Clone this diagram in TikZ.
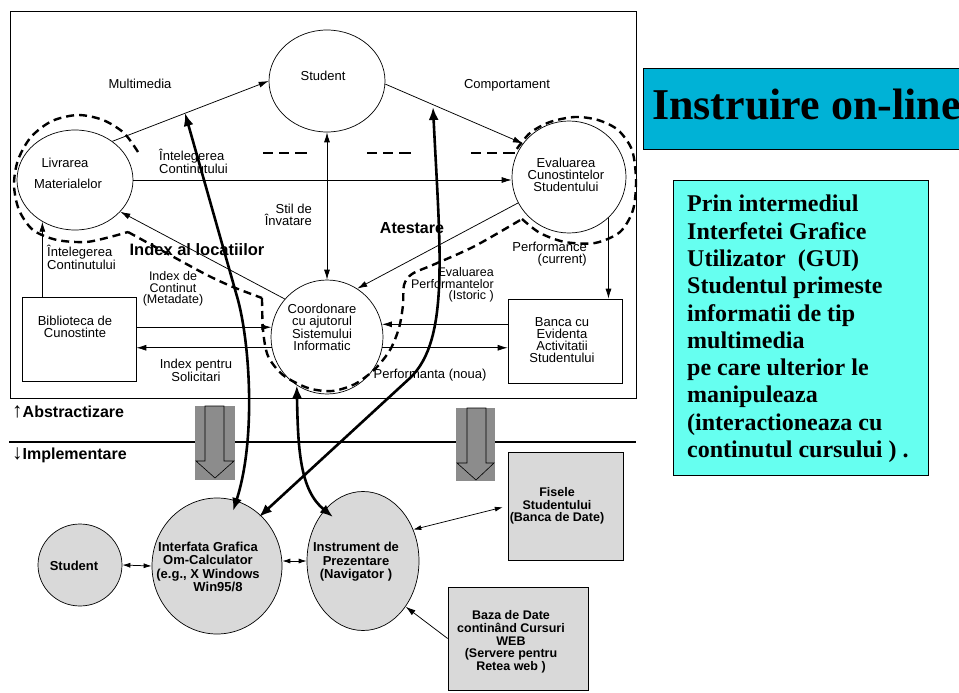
\documentclass[tikz,border=0pt]{standalone}
\usepackage{fontspec}
\setmainfont{Liberation Serif}
\newfontfamily\arial{Liberation Sans}
\usetikzlibrary{shapes.geometric,arrows.meta,calc}
\definecolor{titlecol}{RGB}{0,178,214}
\definecolor{notecol}{RGB}{102,255,240}
\definecolor{lgray}{RGB}{217,217,217}
\definecolor{dgray}{RGB}{140,140,140}
\begin{document}
\begin{tikzpicture}[x=1pt,y=-1pt,
  oval/.style={draw, ellipse, inner sep=0pt, line width=0.7pt},
  box/.style={draw, rectangle, inner sep=0pt, line width=0.7pt},
  lbl/.style={font=\arial\fontsize{13}{12}\selectfont, align=center, inner sep=0pt},
  slbl/.style={font=\arial\fontsize{12.5}{11.5}\selectfont, align=center, inner sep=0pt},
  blbl/.style={font=\arial\bfseries\fontsize{13}{13.5}\selectfont, align=center, inner sep=0pt},
  arr/.style={line width=0.75pt, -{Latex[length=10pt,width=6pt]}},
  darr/.style={line width=0.75pt, {Latex[length=10pt,width=6pt]}-{Latex[length=10pt,width=6pt]}},
  sarr/.style={line width=0.75pt, {Latex[length=8pt,width=5pt]}-{Latex[length=8pt,width=5pt]}},
  fatarr/.style={line width=2.6pt, {Latex[length=13pt,width=10pt]}-{Latex[length=13pt,width=10pt]}},
  dsh/.style={line width=2.4pt, dash pattern=on 8pt off 5pt},
  blockarrow/.style={fill=dgray, draw=black, line width=0.6pt},
]
\path[use as bounding box] (0,0) rectangle (959,693);
\fill[white] (0,0) rectangle (959,693);

% frame
\draw[line width=1pt] (10,12) rectangle (636,398);

% top nodes
\node[oval, minimum width=116pt, minimum height=102pt] (stud) at (327,81) {};
\node[oval, minimum width=116pt, minimum height=100pt] (livr) at (75,180) {};
\node[oval, minimum width=114pt, minimum height=112pt] (eval) at (569,177) {};
\node[oval, minimum width=112pt, minimum height=114pt] (coord) at (327,337) {};
\node[box, minimum width=114pt, minimum height=84pt] (bib) at (79,339) {};
\node[box, minimum width=114pt, minimum height=84pt] (banca) at (565,341) {};

% labels (top)
\node[lbl] (tStud) at (323,76) {Student};
\node[lbl] (tLivr1) at (65,163) {Livrarea};
\node[lbl] (tLivr2) at (68,184) {Materialelor};
\node[lbl] (tEval) at (566,175) {Evaluarea\\Cunostintelor\\Studentului};
\node[lbl] (tCoord) at (322,327) {Coordonare\\cu ajutorul\\Sistemului\\Informatic};
\node[lbl] (tBib) at (75,327) {Biblioteca de\\Cunostinte};
\node[lbl] (tBanca) at (562,340) {Banca cu\\Evidenta\\Activitatii\\Studentului};
\node[lbl] (tMulti) at (140,84) {Multimedia};
\node[lbl] (tComp) at (507,85) {Comportament};
\node[lbl, align=left, anchor=west] (tInt1) at (159,161) {Întelegerea\\Continutului};
\node[lbl, align=left, anchor=west] (tInt2) at (47,257) {Întelegerea\\Continutului};
\node[lbl, align=right, anchor=east] (tStil) at (312,215) {Stil de\\Învatare};
\node[lbl, font=\arial\bfseries\fontsize{16}{16}\selectfont] (tAtest) at (412,228) {Atestare};
\node[lbl, font=\arial\bfseries\fontsize{16.5}{16.5}\selectfont] (tIndex) at (197,250) {Index al locatiilor};
\node[slbl] (tMeta) at (173,289) {Index de\\Continut\\(Metadate)};
\node[lbl] (tSolic) at (196,370) {Index pentru\\Solicitari};
\node[lbl, align=right, anchor=east] (tPerfc) at (587,254) {Performance\\(current)};
\node[slbl, align=right, anchor=east] (tPerfi) at (494,285) {Evaluarea\\Performantelor\\(Istoric )};
\node[lbl] (tPerfn) at (430,375) {Performanta (noua)};

% dashed boundaries
\draw[dsh] plot[smooth] coordinates {(138,152) (124,133) (103,120) (78,115) (52,121) (31,137) (18,160) (14,185) (19,210) (33,230) (57,240) (86,242) (110,237) (128,232)};
\draw[dsh] plot[smooth] coordinates {(128,232) (170,255) (207,275) (233,287) (262,298)};
\draw[dsh] plot[smooth] coordinates {(262,298) (263,330) (268,356) (283,375) (308,388) (332,391) (355,384) (375,369) (390,350) (399,328) (403,305) (404,285) (412,274) (435,264) (475,246) (522,219)};
\draw[dsh] plot[smooth] coordinates {(522,219) (540,233) (565,242) (595,243) (620,232) (633,210) (636,180) (632,150) (618,130) (598,120) (575,117) (550,122) (530,133) (516,150)};
\draw[line width=2.4pt, dash pattern=on 10pt off 6pt on 10pt off 6pt on 12pt off 60pt] (263,153) -- (516,153);

% thin arrows (top)
\draw[arr] (livr.46) -- (stud.west);
\draw[arr] (stud.-3) -- (eval.144);
\draw[arr] (livr.east) -- (eval.west |- livr.east);
\draw[darr] (stud.south) -- (coord.north);
\draw[arr] (eval.207) -- (coord.58);
\draw[arr] (coord.138) -- (livr.-35);
\draw[arr] (bib.north -| livr.232) -- (livr.232);
\draw[arr] (bib.east |- coord.170) -- (coord.170);
\draw[arr] (coord.191) -- (bib.east |- coord.191);
\draw[arr] (banca.west |- coord.13) -- (coord.13);
\draw[arr] (coord.-11) -- (banca.west |- coord.-11);
\draw[arr] (eval.-46) -- (banca.north -| eval.-46);

% abstraction / implementation
\draw[line width=1.2pt] (9,442) -- (636,442);
\node[anchor=west, inner sep=0pt, font=\arial\bfseries\fontsize{16}{16}\selectfont] (tAbs) at (12,412) {{\mdseries\fontsize{21}{21}\selectfont ↑}Abstractizare};
\node[anchor=west, inner sep=0pt, font=\arial\bfseries\fontsize{16}{16}\selectfont] (tImp) at (12,455) {{\mdseries\fontsize{21}{21}\selectfont ↓}Implementare};

\node[fill=dgray, minimum width=40pt, minimum height=74pt, inner sep=0pt] (ga1) at (215,443) {};
\draw[blockarrow] (205,406) -- (224,406) -- (224,461) -- (234,461) -- (215,478) -- (196,461) -- (205,461) -- cycle;
\node[fill=dgray, minimum width=39pt, minimum height=73pt, inner sep=0pt] (ga2) at (475.5,444.5) {};
\draw[blockarrow] (467,408) -- (486,408) -- (486,463) -- (494,463) -- (476,480) -- (457,463) -- (467,463) -- cycle;

% bottom nodes
\node[oval, fill=lgray, minimum width=84pt, minimum height=82pt] (sstud) at (80,565) {};
\node[oval, fill=lgray, minimum width=130pt, minimum height=136pt] (gui) at (217,566) {};
\node[oval, fill=lgray, minimum width=112pt, minimum height=139pt] (instr) at (363,561) {};
\node[box, fill=lgray, minimum width=115pt, minimum height=108pt] (fisele) at (565.5,506) {};
\node[box, fill=lgray, minimum width=140pt, minimum height=103pt] (baza) at (518,638.5) {};

\node[blbl] (tSstud) at (74,566) {Student};
\node[blbl] (tGui) at (208,567) {Interfata Grafica\\Om-Calculator\\(e.g., X Windows\\\hspace*{20pt}Win95/8};
\node[blbl] (tInstr) at (356,562) {Instrument de\\Prezentare\\(Navigator )};
\node[blbl, font=\arial\bfseries\fontsize{12.5}{12.5}\selectfont] (tFis) at (557,506) {Fisele\\Studentului\\(Banca de Date)};
\node[blbl, font=\arial\bfseries\fontsize{12.5}{12.7}\selectfont] (tBaza) at (511,642) {Baza de Date\\continând Cursuri\\WEB\\(Servere pentru\\Retea web )};

% bottom arrows
\draw[sarr] (sstud.east) -- (gui.west);
\draw[sarr] (gui.east |- instr.west) -- (instr.west);
\draw[sarr, shorten >=5pt] (instr.32) -- (fisele.west);
\draw[arr] (baza.west) -- (instr.-47);

% thick cross-level arrows
\coordinate (h1) at (185,113);
\coordinate (h2) at (433,107);
\coordinate (e1) at (233,511);
\coordinate (e2) at (259,517);
\coordinate (e3) at (333,517);
\draw[fatarr] (h1) -- (238,300) .. controls (250,345) and (256,440) .. (e1);
\draw[fatarr] (h2) .. controls (440,250) and (450,340) .. (410,378) -- (e2);
\draw[fatarr] (coord.238) .. controls (298,450) and (300,490) .. (e3);

% right panel
\node[draw, fill=titlecol, line width=1pt, minimum width=330pt, minimum height=81pt, anchor=north west, inner sep=0pt] (title) at (643,68) {};
\node[anchor=base west, inner sep=0pt, font=\bfseries\fontsize{44}{44}\selectfont] (tTitle) at (652,120) {Instruire on-line};
\node[draw, fill=notecol, line width=1.2pt, anchor=north west, minimum width=255pt, minimum height=295pt, inner sep=0pt] (note) at (673,180) {};
\node[anchor=north west, inner sep=0pt, align=left, font=\bfseries\fontsize{24}{27.3}\selectfont] (tNote) at (687,195) {Prin intermediul\\Interfetei Grafice\\Utilizator\ \ (GUI)\\Studentul primeste\\informatii de tip\\multimedia\\pe care ulterior le\\manipuleaza\\(interactioneaza cu\\continutul cursului ) .};
\end{tikzpicture}
\end{document}
